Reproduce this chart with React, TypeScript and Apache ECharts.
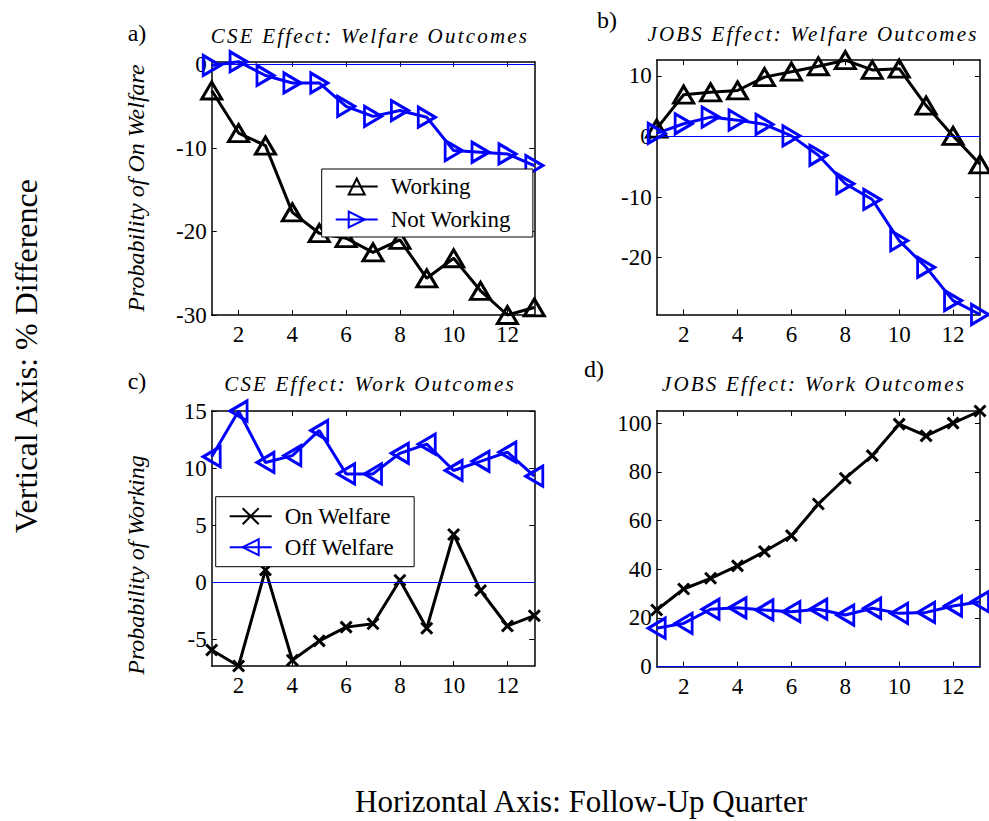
import React, { useEffect, useRef } from "react";
import * as echarts from "echarts";

// ---------------- data ----------------
const quarters = [1, 2, 3, 4, 5, 6, 7, 8, 9, 10, 11, 12, 13];
const xTickValues = [2, 4, 6, 8, 10, 12];

// a) CSE Effect: Welfare Outcomes
const cseWelfareWorking = [-3.1, -8.2, -9.7, -17.7, -20.2, -20.8, -22.5, -21.0, -25.6, -23.2, -27.1, -30.0, -29.1];
const cseWelfareNotWorking = [-0.1, 0.35, -1.3, -2.2, -2.2, -5.0, -6.2, -5.5, -6.3, -10.3, -10.5, -10.7, -12.1];
// b) JOBS Effect: Welfare Outcomes
const jobsWelfareWorking = [1.3, 6.9, 7.3, 7.6, 9.8, 10.7, 11.6, 12.6, 11.0, 11.2, 5.1, 0.1, -4.6];
const jobsWelfareNotWorking = [0.5, 2.1, 3.2, 2.7, 2.0, 0.1, -3.1, -7.8, -10.4, -17.2, -21.6, -27.1, -29.4];
// c) CSE Effect: Work Outcomes
const cseWorkOnWelfare = [-5.9, -7.3, 1.1, -6.8, -5.1, -3.9, -3.6, 0.2, -4.0, 4.2, -0.7, -3.8, -2.9];
const cseWorkOffWelfare = [11.0, 15.0, 10.5, 11.1, 13.3, 9.5, 9.5, 11.3, 12.1, 9.8, 10.6, 11.4, 9.3];
// d) JOBS Effect: Work Outcomes
const jobsWorkOnWelfare = [23.3, 31.9, 36.3, 41.4, 47.3, 53.8, 66.8, 77.4, 86.7, 99.6, 94.8, 100.0, 105.0];
const jobsWorkOffWelfare = [15.8, 17.8, 23.6, 24.2, 23.3, 22.6, 23.6, 21.2, 24.0, 21.9, 22.3, 24.9, 26.7];

const aYTicks = [-30, -20, -10, 0];
const bYTicks = [-20, -10, 0, 10];
const cYTicks = [-5, 0, 5, 10, 15];
const dYTicks = [0, 20, 40, 60, 80, 100];

const aYRange = [-30, 0.35];
const bYRange = [-29.4, 12.6];
const cYRange = [-7.3, 15];
const dYRange = [0, 105];

const welfareNames = ["Working", "Not Working"];
const workNames = ["On Welfare", "Off Welfare"];
const panelLetters = ["a)", "b)", "c)", "d)"];
const panelTitles = [
  "CSE Effect: Welfare Outcomes",
  "JOBS Effect: Welfare Outcomes",
  "CSE Effect: Work Outcomes",
  "JOBS Effect: Work Outcomes",
];
const yAxisTitles = ["Probability of On Welfare", "Probability of Working"];
const figureYLabel = "Vertical Axis: % Difference";
const figureXLabel = "Horizontal Axis: Follow-Up Quarter";

// ---------------- style / layout ----------------
const SERIF = "'Liberation Serif', serif";
const TITLE_SERIF = "'Liberation Serif', 'Times New Roman', serif";
const BLACK = "#000000";
const BLUE = "#0000ff";
const CROSS = "path://M0,0L10,10M10,0L0,10";

type Sym = "up" | "right" | "left" | "cross";

const panels = [
  {
    grid: { left: 211.7, top: 61.7, width: 322.6, height: 253.3 },
    yTicks: aYTicks, yRange: aYRange,
    black: cseWelfareWorking, blue: cseWelfareNotWorking,
    names: welfareNames, blackSym: "up" as Sym, blueSym: "right" as Sym,
    letterPos: [137, 33], titlePos: [370, 36],
  },
  {
    grid: { left: 656.7, top: 60.2, width: 323.3, height: 254.3 },
    yTicks: bYTicks, yRange: bYRange,
    black: jobsWelfareWorking, blue: jobsWelfareNotWorking,
    names: welfareNames, blackSym: "up" as Sym, blueSym: "right" as Sym,
    letterPos: [607, 20], titlePos: [813, 34],
  },
  {
    grid: { left: 211.7, top: 411.0, width: 322.6, height: 255 },
    yTicks: cYTicks, yRange: cYRange,
    black: cseWorkOnWelfare, blue: cseWorkOffWelfare,
    names: workNames, blackSym: "cross" as Sym, blueSym: "left" as Sym,
    letterPos: [137, 381], titlePos: [370, 384],
  },
  {
    grid: { left: 656.7, top: 411, width: 323.3, height: 255.7 },
    yTicks: dYTicks, yRange: dYRange,
    black: jobsWorkOnWelfare, blue: jobsWorkOffWelfare,
    names: workNames, blackSym: "cross" as Sym, blueSym: "left" as Sym,
    letterPos: [594, 369], titlePos: [814, 384],
  },
];

function symbolOpts(s: Sym) {
  if (s === "cross") return { symbol: CROSS, symbolSize: 11, symbolRotate: 0 };
  if (s === "up") return { symbol: "triangle", symbolSize: [20, 17], symbolRotate: 0 };
  if (s === "right") return { symbol: "triangle", symbolSize: [20, 17], symbolRotate: -90 };
  return { symbol: "triangle", symbolSize: [20, 17], symbolRotate: 90 };
}

const axisLineStyle = { color: BLACK, width: 1.5 };
const tickStyle = { color: BLACK, width: 1 };
const labelStyle = { fontSize: 23, fontFamily: SERIF, color: BLACK };

function buildOption() {
  const grid: any[] = [];
  const xAxis: any[] = [];
  const yAxis: any[] = [];
  const series: any[] = [];
  const elements: any[] = [];

  panels.forEach((p, i) => {
    grid.push({ ...p.grid, containLabel: false });
    const common = { type: "value", gridIndex: i, splitLine: { show: false } };
    xAxis.push({
      ...common, position: "bottom", min: 1, max: 13,
      axisLine: { show: true, onZero: false, lineStyle: axisLineStyle },
      axisTick: { show: true, inside: true, length: 5, customValues: xTickValues, lineStyle: tickStyle },
      axisLabel: { show: true, customValues: xTickValues, margin: 8, ...labelStyle },
    });
    xAxis.push({
      ...common, position: "top", min: 1, max: 13,
      axisLine: { show: true, onZero: false, lineStyle: axisLineStyle },
      axisTick: { show: true, inside: true, length: 5, customValues: xTickValues, lineStyle: tickStyle },
      axisLabel: { show: false },
    });
    yAxis.push({
      ...common, position: "left", min: p.yRange[0], max: p.yRange[1],
      axisLine: { show: true, onZero: false, lineStyle: axisLineStyle },
      axisTick: { show: true, inside: true, length: 5, customValues: p.yTicks, lineStyle: tickStyle },
      axisLabel: { show: true, customValues: p.yTicks, margin: 5, ...labelStyle },
    });
    yAxis.push({
      ...common, position: "right", min: p.yRange[0], max: p.yRange[1],
      axisLine: { show: true, onZero: false, lineStyle: axisLineStyle },
      axisTick: { show: true, inside: true, length: 5, customValues: p.yTicks, lineStyle: tickStyle },
      axisLabel: { show: false },
    });

    const mk = (name: string, vals: number[], color: string, sym: Sym, withZero: boolean) => ({
      type: "line",
      name,
      xAxisIndex: i * 2,
      yAxisIndex: i * 2,
      data: quarters.map((q, k) => [q, vals[k]]),
      ...symbolOpts(sym),
      showSymbol: true,
      showAllSymbol: true,
      clip: false,
      lineStyle: { color, width: 3 },
      itemStyle: { color: "transparent", borderColor: color, borderWidth: 3 },
      emphasis: { disabled: true },
      z: 3,
      markLine: withZero
        ? {
            silent: true,
            symbol: ["none", "none"],
            label: { show: false },
            lineStyle: { color: BLUE, width: 1, type: "solid", opacity: 1 },
            emphasis: { disabled: true },
            data: [{ yAxis: 0 }],
          }
        : undefined,
    });
    series.push(mk(p.names[0], p.black, BLACK, p.blackSym, false));
    series.push(mk(p.names[1], p.blue, BLUE, p.blueSym, true));

    elements.push({
      type: "text", x: p.letterPos[0], y: p.letterPos[1],
      style: { text: panelLetters[i], fontSize: 24, fontFamily: SERIF, fill: BLACK,
        textAlign: "center", align: "center", textVerticalAlign: "middle", verticalAlign: "middle" },
    });
    elements.push({
      type: "text", x: p.titlePos[0], y: p.titlePos[1],
      style: { text: panelTitles[i], fontSize: 21, fontStyle: "italic", fontFamily: TITLE_SERIF, fill: BLACK,
        textAlign: "center", align: "center", textVerticalAlign: "middle", verticalAlign: "middle" },
    });
  });

  // y axis titles (left column only)
  [[136, 188, 0], [136, 565, 1]].forEach(([x, y, k]) => {
    elements.push({
      type: "text", x, y, rotation: Math.PI / 2,
      style: { text: yAxisTitles[k], fontSize: 24, fontStyle: "italic", fontFamily: SERIF, fill: BLACK,
        textAlign: "center", align: "center", textVerticalAlign: "middle", verticalAlign: "middle" },
    });
  });
  elements.push({
    type: "text", x: 26, y: 356, rotation: Math.PI / 2,
    style: { text: figureYLabel, fontSize: 32, fontFamily: SERIF, fill: BLACK,
      textAlign: "center", align: "center", textVerticalAlign: "middle", verticalAlign: "middle" },
  });
  elements.push({
    type: "text", x: 581, y: 801,
    style: { text: figureXLabel, fontSize: 31, fontFamily: SERIF, fill: BLACK,
      textAlign: "center", align: "center", textVerticalAlign: "middle", verticalAlign: "middle" },
  });

  const legendCommon = {
    orient: "vertical",
    itemWidth: 42,
    itemHeight: 20,
    borderColor: BLACK,
    borderWidth: 1,
    borderRadius: 0,
    backgroundColor: "#ffffff",
    selectedMode: false,
    textStyle: { fontSize: 23, fontFamily: SERIF, color: BLACK, lineHeight: 20, padding: [0, 0, 0, 8] },
  };

  return {
    animation: false,
    backgroundColor: "#ffffff",
    grid,
    xAxis,
    yAxis,
    series,
    legend: [
      { ...legendCommon, data: welfareNames, left: 321.7, top: 169, itemGap: 10, padding: [6, 22, 6, 13] },
      { ...legendCommon, data: workNames, left: 215.7, top: 496.7, itemGap: 8, padding: [8, 20, 8, 13] },
    ],
    graphic: { elements },
  };
}

export default function App() {
  const ref = useRef<HTMLDivElement>(null);
  useEffect(() => {
    if (!ref.current) return;
    const chart = echarts.init(ref.current, undefined, { renderer: "svg" });
    chart.setOption(buildOption() as any);
    return () => chart.dispose();
  }, []);
  return (
    <>
      <style>{`text[style*="Times New Roman"]{letter-spacing:2.2px;}`}</style>
      <div
        ref={ref}
        style={{ position: "absolute", left: 0, top: 0, width: 989, height: 821, background: "#ffffff" }}
      />
    </>
  );
}
